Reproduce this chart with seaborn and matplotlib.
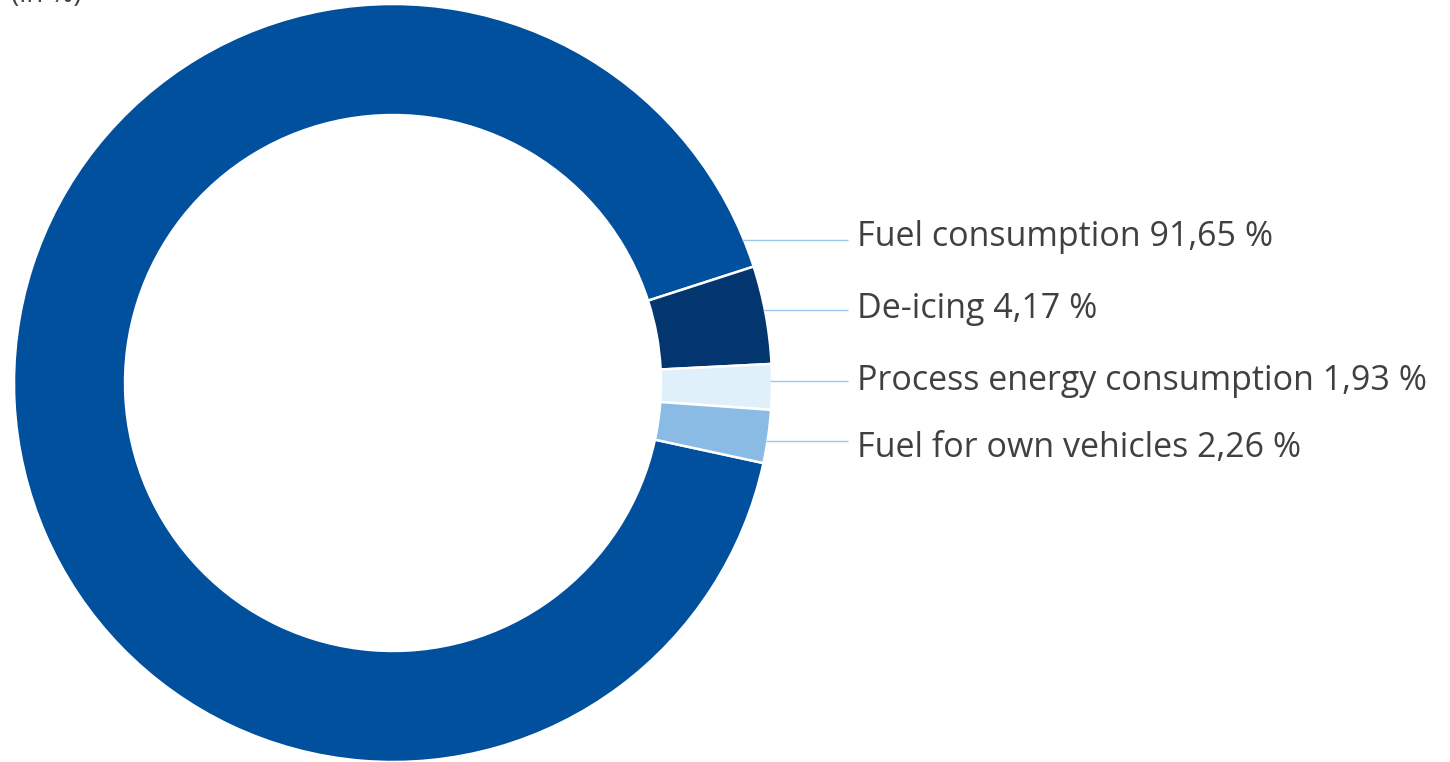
import numpy as np
import matplotlib
matplotlib.use("Agg")
import matplotlib.pyplot as plt
import seaborn as sns

categories = ["Fuel consumption", "De-icing", "Process energy consumption", "Fuel for own vehicles"]
values = [91.65, 4.17, 1.93, 2.26]
value_labels = ["91,65 %", "4,17 %", "1,93 %", "2,26 %"]
colors = ["#00509E", "#03366E", "#DFF0FB", "#8ABBE5"]
unit_label = "(in %)"

sns.set_theme(style="white")
plt.rcParams['font.family'] = ['Open Sans', 'DejaVu Sans']

W, H = 1450, 762
fig = plt.figure(figsize=(W / 100, H / 100), dpi=100)
ax = fig.add_axes([0, 0, 1, 1])

cx, cy_px, R = 393, 383, 379
cy = H - cy_px
ring_w = 0.293

wedges, _ = ax.pie(values, colors=colors, startangle=-12.2, counterclock=False,
                   radius=R, center=(cx, cy),
                   wedgeprops=dict(width=R * ring_w, edgecolor="white", linewidth=1.8))

# label layout (pixel rows)
label_rows_px = [237, 309, 381, 448]
line_rows_px = [240, 310, 381, 441]
text_x = 857
line_end = 848
for cat, vl, ty, ly in zip(categories, value_labels, label_rows_px, line_rows_px):
    yd = H - ly
    dy = yd - cy
    xs = cx + np.sqrt(max(R ** 2 - dy ** 2, 0)) - 2
    ax.plot([xs, line_end], [yd, yd], color="#9DC8EE", lw=1.0, solid_capstyle="butt")
    ax.text(text_x, H - ty, f"{cat} {vl}", fontsize=24.5, color="#404040",
            ha="left", va="center")

ax.text(11, H - 2, unit_label, fontsize=20, color="#404040", ha="left", va="baseline")

ax.set_xlim(0, W)
ax.set_ylim(0, H)
ax.set_aspect("equal")
ax.axis("off")
fig.savefig("out.png", dpi=100)
